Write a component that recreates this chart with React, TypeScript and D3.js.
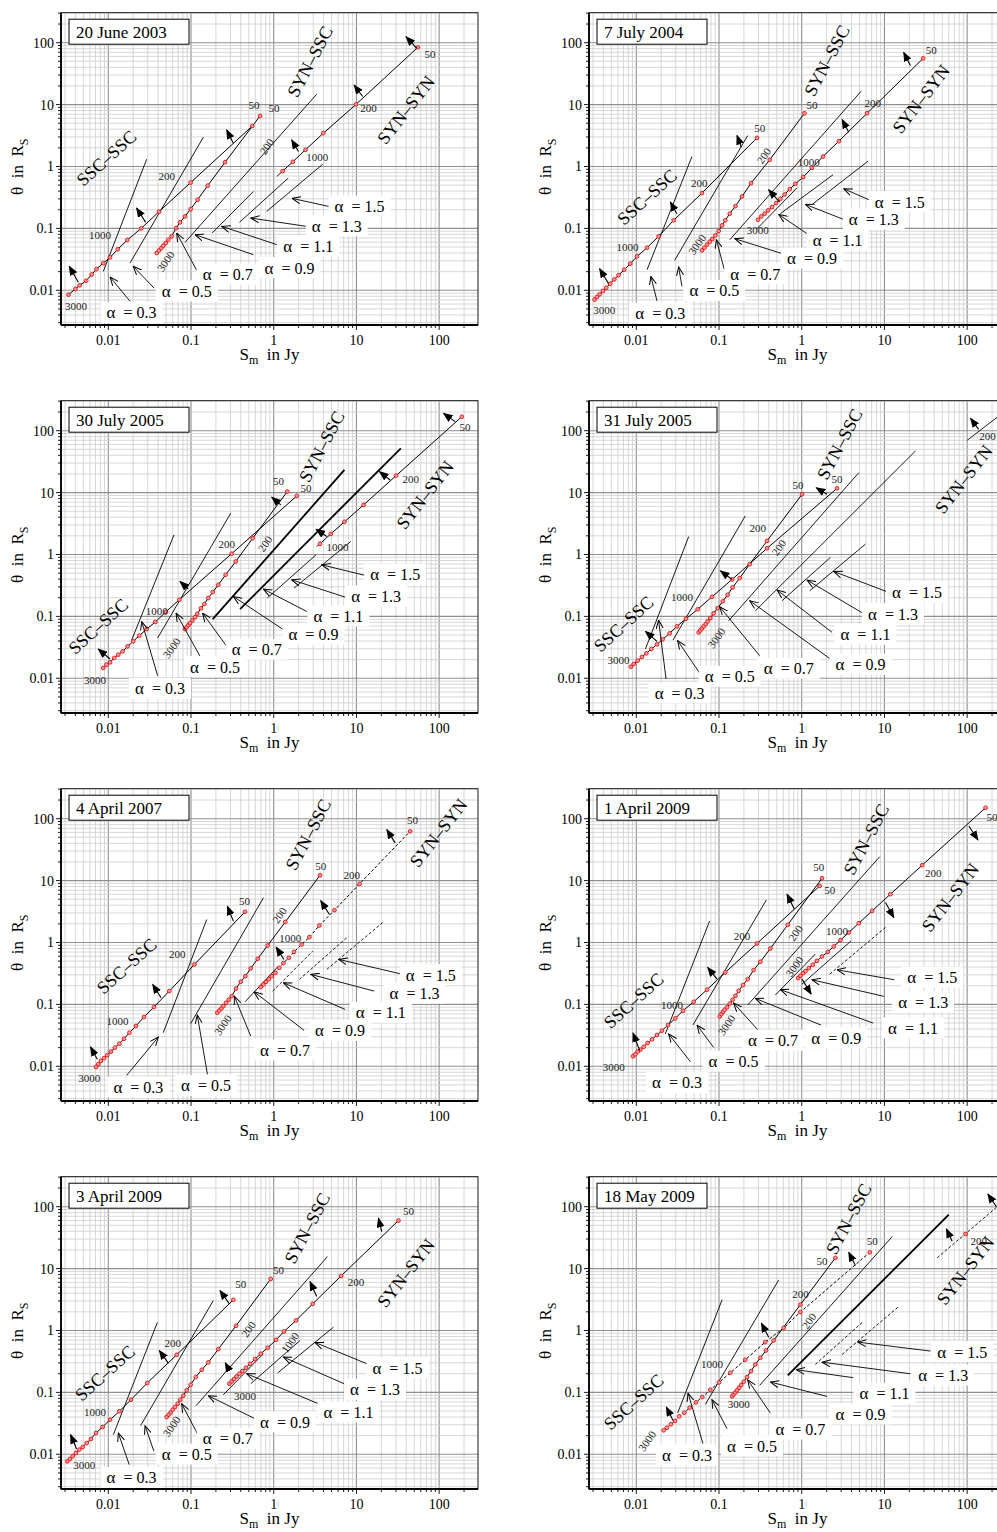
import React from 'react';
import * as d3 from 'd3';

type P = [number, number];
type Seg = [number, number, number, number];
type Num = [number, number, string, number?];

// alpha values shared by all panels, names of the three regimes
const alphaValues = ['0.3', '0.5', '0.7', '0.9', '1.1', '1.3', '1.5'];
const regimeNames = ['SSC\u2013SSC', 'SYN\u2013SSC', 'SYN\u2013SYN'];

// ---------- 20 June 2003 ----------
const jun03SscSsc: P[] = [[0.0033,0.0085],[0.004,0.0105],[0.0045,0.012],[0.0054,0.0143],[0.0063,0.018],[0.0072,0.022],[0.0087,0.0275],[0.0105,0.034],[0.013,0.046],[0.017,0.065],[0.025,0.1],[0.041,0.186],[0.099,0.55],[0.55,4.5]];
const jun03SynSsc: P[] = [[0.0385,0.04],[0.041,0.044],[0.0438,0.048],[0.0462,0.0525],[0.0494,0.058],[0.0532,0.0656],[0.0583,0.0743],[0.066,0.101],[0.0736,0.125],[0.0845,0.156],[0.099,0.205],[0.12,0.29],[0.159,0.49],[0.258,1.17],[0.684,6.56]];
const jun03SynSyn: P[] = [[1.28,0.84],[1.7,1.19],[2.42,1.86],[3.98,3.45],[9.9,10.1],[55.2,84]];
const jun03Lines: Seg[] = [[0.0087,0.0202,0.0291,1.31],[0.0183,0.0275,0.141,2.97],[0.0845,0.0594,3.31,14.7],[0.18,0.084,0.568,0.395],[0.385,0.125,1.5,0.65],[0.822,0.188,3.92,1.09],[1.09,0.69,1.28,0.84]];
const jun03AlphaAt: P[] = [[0.0191,0.0043],[0.0887,0.0096],[0.278,0.0179],[1.55,0.0229],[2.62,0.0513],[5.78,0.108],[10.9,0.226]];
const jun03AlphaArrows: Seg[] = [[0.0183,0.00665,0.0105,0.0164],[0.0356,0.0109,0.02,0.0244],[0.117,0.021,0.0671,0.0841],[0.568,0.0376,0.112,0.079],[1.09,0.0546,0.235,0.108],[2.46,0.108,0.527,0.147],[5.03,0.221,1.67,0.305]];
const jun03Normals: Seg[] = [[0.00434,0.0135,0.00337,0.0244],[0.0283,0.125,0.022,0.213],[0.325,2.38,0.27,3.9],[1.99,1.75,1.65,2.69],[11.9,13.5,9.38,20.7],[53.7,81,39.8,125]];
const jun03Nums: Num[] = [[0.00406,0.00566,'3000'],[0.00793,0.079,'1000'],[0.0508,0.69,'200'],[0.578,9.89,'50'],[1.01,8.73,'50'],[0.0494,0.0294,'3000',1],[0.822,2.1,'200',1],[3.37,1.42,'1000'],[14,8.73,'200'],[77.8,65.6,'50']];
const jun03Names: P[] = [[0.0095,1.36],[2.75,49.4],[39.8,8.2]];

// ---------- 7 July 2004 ----------
const jul04SscSsc: P[] = [[0.00313,0.00707],[0.00334,0.0078],[0.0036,0.0086],[0.00395,0.00975],[0.00434,0.011],[0.00484,0.0128],[0.00542,0.015],[0.0061,0.0175],[0.00716,0.0215],[0.00846,0.0269],[0.0102,0.0353],[0.0135,0.0488],[0.0186,0.0743],[0.0283,0.135],[0.0622,0.372],[0.288,2.9]];
const jul04SynSsc: P[] = [[0.0622,0.0442],[0.0665,0.0488],[0.0716,0.0546],[0.0771,0.061],[0.083,0.0673],[0.0903,0.077],[0.099,0.0906],[0.109,0.112],[0.119,0.135],[0.135,0.173],[0.158,0.229],[0.19,0.328],[0.244,0.538],[0.41,1.28],[1.08,7.24]];
const jul04SynSyn: P[] = [[0.296,0.138],[0.325,0.156],[0.356,0.173],[0.392,0.195],[0.438,0.221],[0.49,0.256],[0.552,0.301],[0.622,0.353],[0.716,0.431],[0.838,0.525],[1.04,0.673],[1.33,0.95],[1.81,1.45],[2.81,2.56],[6.17,7.24],[29.4,55.8]];
const jul04Lines: Seg[] = [[0.0135,0.0215,0.0471,1.45],[0.0291,0.0305,0.222,3.16],[0.135,0.0656,5.22,16.4],[0.288,0.0989,0.88,0.453],[0.552,0.173,2.39,0.735],[1.37,0.25,6.34,1.22]];
const jul04AlphaAt: P[] = [[0.0195,0.0042],[0.0879,0.00975],[0.275,0.0181],[1.33,0.0324],[2.72,0.064],[7.43,0.138],[15.3,0.266]];
const jul04AlphaArrows: Seg[] = [[0.0178,0.00673,0.015,0.0168],[0.0356,0.0116,0.0325,0.0238],[0.116,0.0215,0.0929,0.0656],[0.678,0.0367,0.155,0.0681],[1.16,0.082,0.527,0.168],[3.28,0.138,1.11,0.244],[6.78,0.283,3.22,0.437]];
const jul04Normals: Seg[] = [[0.00462,0.0128,0.0036,0.0223],[0.031,0.173,0.0258,0.266],[0.186,2.05,0.165,3.16],[0.542,0.266,0.398,0.421],[3.7,3.58,3.08,5.73],[20.6,42.6,17.1,69.8]];
const jul04Nums: Num[] = [[0.0041,0.00488,'3000'],[0.00785,0.05,'1000'],[0.0578,0.538,'200'],[0.31,4.21,'50'],[0.0542,0.0552,'3000',1],[0.347,1.5,'200',1],[1.33,9.89,'50'],[0.294,0.0929,'3000'],[1.22,1.17,'1000'],[7.23,10.6,'200'],[36.7,76.2,'50']];
const jul04Names: P[] = [[0.0135,0.32],[2.02,51.3],[27.8,12.3]];

// ---------- 30 July 2005 ----------
const jul30SscSsc: P[] = [[0.0087,0.0147],[0.0095,0.0166],[0.0105,0.0181],[0.0118,0.0213],[0.0132,0.0241],[0.0149,0.0272],[0.0171,0.0328],[0.02,0.0395],[0.0237,0.0488],[0.0291,0.0625],[0.037,0.0811],[0.0499,0.119],[0.0723,0.186],[0.31,1.03],[1.9,8.83]];
const jul30SynSsc: P[] = [[0.0845,0.0625],[0.0887,0.0673],[0.0929,0.0724],[0.0973,0.078],[0.104,0.0861],[0.112,0.0975],[0.119,0.11],[0.132,0.135],[0.145,0.158],[0.162,0.198],[0.183,0.247],[0.214,0.324],[0.262,0.47],[0.347,0.77],[0.557,1.83],[1.46,10.4]];
const jul30SynSyn: P[] = [[3.63,1.49],[4.9,2.15],[7.16,3.37],[12.2,6.32],[30.2,18.8],[188,168]];
const jul30Lines: Seg[] = [[0.0191,0.041,0.0622,2.07],[0.0395,0.0448,0.302,4.64],[0.838,0.198,3.25,0.989],[1.76,0.286,8.53,1.62],[3.31,1.35,3.63,1.49]];
const jul30BoldLines: Seg[] = [[0.183,0.0906,7.16,23.2],[0.392,0.131,34.4,51.9]];
const jul30AlphaAt: P[] = [[0.0422,0.00673],[0.195,0.0152],[0.622,0.029],[3.02,0.0506],[6.05,0.1],[17.3,0.21],[29.4,0.47]];
const jul30AlphaArrows: Seg[] = [[0.0395,0.011,0.0253,0.083],[0.132,0.0213,0.066,0.113],[0.27,0.0328,0.138,0.113],[1.31,0.061,0.325,0.21],[2.51,0.12,0.75,0.276],[7.29,0.205,1.65,0.39],[13.3,0.453,3.81,0.681]];
const jul30Normals: Seg[] = [[0.0105,0.0205,0.00757,0.0297],[0.0929,0.276,0.0736,0.367],[1.22,6.32,0.946,8.41],[4.38,1.95,3.25,2.56],[25.5,16,19,21.8],[156,140,113,190]];
const jul30Nums: Num[] = [[0.0069,0.0093,'3000'],[0.0385,0.12,'1000'],[0.27,1.49,'200'],[2.46,11.7,'50'],[0.0583,0.0308,'3000',1],[0.785,1.49,'200',1],[1.14,15.6,'50'],[5.89,1.31,'1000'],[45.4,16.4,'200'],[206,116,'50']];
const jul30Names: P[] = [[0.00757,0.069],[3.81,55.2],[67.8,9.16]];

// ---------- 31 July 2005 ----------
const jul31SscSsc: P[] = [[0.00861,0.0154],[0.0093,0.017],[0.0104,0.0193],[0.0117,0.0221],[0.0132,0.0253],[0.0152,0.0297],[0.0178,0.0353],[0.0208,0.0426],[0.0253,0.0532],[0.031,0.069],[0.0399,0.0916],[0.0552,0.13],[0.0822,0.207],[0.144,0.395],[0.381,1.26],[2.67,11.7]];
const jul31SynSsc: P[] = [[0.0568,0.0552],[0.0594,0.0594],[0.0622,0.064],[0.0653,0.069],[0.069,0.0752],[0.073,0.083],[0.0785,0.094],[0.0861,0.112],[0.0964,0.136],[0.111,0.175],[0.127,0.223],[0.146,0.294],[0.178,0.415],[0.235,0.698],[0.381,1.66],[1.01,9.4]];
const jul31Lines: Seg[] = [[0.0129,0.0297,0.043,1.95],[0.0278,0.0415,0.208,4.21],[0.131,0.0851,4.9,21],[0.275,0.123,23.7,47],[0.578,0.179,2.22,0.895],[1.25,0.259,5.89,1.47],[100,69.8,400,290]];
const jul31AlphaAt: P[] = [[0.0334,0.00573],[0.135,0.0106],[0.697,0.0142],[5.13,0.0166],[5.89,0.0506],[12.7,0.109],[24.8,0.244]];
const jul31AlphaArrows: Seg[] = [[0.0229,0.00975,0.0186,0.0873],[0.0594,0.0117,0.0316,0.0406],[0.31,0.0232,0.102,0.143],[2.22,0.0205,0.235,0.179],[2.33,0.0552,0.504,0.266],[5.52,0.112,1.16,0.385],[11.3,0.244,2.44,0.532]];
const jul31Normals: Seg[] = [[0.0178,0.0395,0.0129,0.0573],[0.144,0.395,0.104,0.546],[2.02,9.4,1.5,12],[138,105,110,158]];
const jul31Nums: Num[] = [[0.0061,0.0198,'3000'],[0.0356,0.202,'1000'],[0.294,2.66,'200'],[0.904,13.1,'50'],[2.67,16.4,'50'],[0.0929,0.0448,'3000',1],[0.527,1.3,'200',1],[176,82,'200']];
const jul31Names: P[] = [[0.00703,0.0752],[2.88,60.3],[91.2,16.4]];

// ---------- 4 April 2007 ----------
const apr07SscSsc: P[] = [[0.0071,0.00975],[0.00757,0.0108],[0.00815,0.0122],[0.00887,0.0135],[0.00972,0.0152],[0.0108,0.0173],[0.012,0.02],[0.0136,0.0232],[0.0155,0.0279],[0.018,0.0349],[0.0216,0.0448],[0.027,0.0625],[0.0356,0.0906],[0.0547,0.164],[0.11,0.442],[0.45,3.13]];
const apr07SynSsc: P[] = [[0.208,0.0734],[0.22,0.08],[0.233,0.0861],[0.246,0.094],[0.265,0.106],[0.286,0.119],[0.31,0.136],[0.35,0.18],[0.399,0.232],[0.454,0.286],[0.527,0.381],[0.64,0.546],[0.845,0.895],[1.38,2.15],[3.63,12.2]];
const apr07SynSyn: P[] = [[0.697,0.19],[0.75,0.21],[0.807,0.232],[0.871,0.256],[0.946,0.286],[1.05,0.324],[1.17,0.39],[1.31,0.465],[1.52,0.566],[1.76,0.706],[2.18,0.929],[2.7,1.22],[3.56,1.88],[5.42,3.33],[10.9,8.83],[44.6,62.5]];
const apr07Lines: Seg[] = [[0.0462,0.0349,0.155,2.35],[0.099,0.0488,0.75,5.25],[0.45,0.11,1.14,0.415]];
const apr07DashLines: Seg[] = [[0.972,0.164,2.96,0.724],[2.04,0.253,8.0,1.26],[4.38,0.367,21.2,2.15]];
const apr07AlphaAt: P[] = [[0.0231,0.00453],[0.152,0.00482],[1.37,0.0181],[6.34,0.0372],[19.7,0.0734],[50.4,0.149],[79.3,0.297]];
const apr07AlphaArrows: Seg[] = [[0.0167,0.00716,0.0403,0.0297],[0.158,0.00743,0.119,0.0673],[0.527,0.0308,0.334,0.136],[2.33,0.0381,0.578,0.16],[7.29,0.083,1.31,0.223],[16.4,0.164,2.81,0.305],[33.7,0.313,6.14,0.532]];
const apr07Normals: Seg[] = [[0.00736,0.013,0.0061,0.0205],[0.0434,0.128,0.0344,0.21],[0.325,2.21,0.275,3.85],[1.33,0.532,1.07,0.841],[4.71,2.83,3.7,4.75],[29.4,40.6,23.3,66.5]];
const apr07Nums: Num[] = [[0.00589,0.0064,'3000'],[0.0129,0.0538,'1000'],[0.0684,0.64,'200'],[0.442,4.64,'50'],[0.242,0.0464,'3000',1],[1.17,2.76,'200',1],[3.7,17,'50'],[1.58,1.16,'1000'],[8.79,12.2,'200'],[47.5,94,'50']];
const apr07Names: P[] = [[0.0167,0.415],[2.62,55.2],[98.2,58.7]];

// ---------- 1 April 2009 ----------
const apr01SscSsc: P[] = [[0.00912,0.0145],[0.00972,0.0156],[0.0104,0.0173],[0.0112,0.0186],[0.0123,0.0207],[0.0137,0.0238],[0.0155,0.0272],[0.0178,0.032],[0.0204,0.0376],[0.0242,0.0464],[0.0296,0.0594],[0.0367,0.079],[0.0494,0.11],[0.0716,0.173],[0.119,0.328],[0.288,0.964],[1.65,8.2]];
const apr01SynSsc: P[] = [[0.102,0.064],[0.107,0.0698],[0.112,0.0762],[0.117,0.082],[0.125,0.0895],[0.135,0.103],[0.146,0.119],[0.158,0.138],[0.173,0.166],[0.195,0.205],[0.222,0.256],[0.262,0.358],[0.316,0.488],[0.418,0.8],[0.678,1.93],[1.76,10.9]];
const apr01SynSyn: P[] = [[0.904,0.266],[0.964,0.29],[1.04,0.32],[1.11,0.345],[1.22,0.385],[1.36,0.437],[1.53,0.506],[1.76,0.594],[2.07,0.706],[2.44,0.861],[2.94,1.09],[3.7,1.45],[4.9,2.05],[7.1,3.24],[11.8,6.03],[28.6,17.7],[167,150]];
const apr01Lines: Seg[] = [[0.0224,0.0333,0.0771,2.23],[0.0484,0.0464,0.374,4.88],[0.222,0.0975,8.79,24.4],[0.48,0.142,1.46,0.649],[1.01,0.213,3.95,1.06]];
const apr01DashLines: Seg[] = [[2.18,0.308,10.3,1.75]];
const apr01AlphaAt: P[] = [[0.031,0.00538],[0.15,0.0119],[0.45,0.0259],[2.62,0.0283],[22.2,0.041],[29.4,0.108],[37.8,0.272]];
const apr01AlphaArrows: Seg[] = [[0.045,0.0119,0.0246,0.0333],[0.0861,0.0202,0.0542,0.0464],[0.294,0.039,0.15,0.105],[1.71,0.0464,0.275,0.125],[7.29,0.05,0.552,0.173],[9.82,0.135,1.33,0.25],[13.2,0.25,2.67,0.362]];
const apr01Normals: Seg[] = [[0.011,0.0179,0.00912,0.0345],[0.0946,0.256,0.073,0.395],[0.815,3.45,0.665,6.03],[1.01,0.256,1.3,0.147],[10.3,4.42,13,2.53],[105,76.2,135,45.3]];
const apr01Nums: Num[] = [[0.00532,0.00964,'3000'],[0.027,0.0975,'1000'],[0.19,1.25,'200'],[1.61,16.8,'50'],[2.18,6.98,'50'],[0.123,0.0464,'3000',1],[0.838,1.42,'200',1],[0.815,0.41,'3000',1],[2.67,1.54,'1000'],[38.8,13.5,'200'],[200,108,'50']];
const apr01Names: P[] = [[0.0093,0.115],[6.05,46.4],[62.8,5.32]];

// ---------- 3 April 2009 ----------
const apr03SscSsc: P[] = [[0.00319,0.00771],[0.00344,0.0084],[0.00371,0.0093],[0.00406,0.0105],[0.00446,0.0119],[0.0049,0.0131],[0.00547,0.0152],[0.00617,0.0177],[0.0071,0.0221],[0.00853,0.0276],[0.0105,0.0362],[0.0136,0.0494],[0.0188,0.0762],[0.0296,0.142],[0.0671,0.405],[0.325,3.13]];
const apr03SynSsc: P[] = [[0.0508,0.04],[0.0537,0.0437],[0.0568,0.0475],[0.06,0.0525],[0.064,0.058],[0.069,0.0656],[0.0743,0.0762],[0.0807,0.0883],[0.0887,0.108],[0.099,0.133],[0.114,0.177],[0.135,0.232],[0.162,0.305],[0.214,0.5],[0.35,1.19],[0.92,6.81]];
const apr03SynSyn: P[] = [[0.291,0.138],[0.31,0.15],[0.331,0.164],[0.356,0.181],[0.385,0.2],[0.418,0.221],[0.462,0.25],[0.518,0.29],[0.594,0.345],[0.697,0.421],[0.845,0.525],[1.07,0.706],[1.33,0.964],[1.86,1.45],[2.96,2.69],[6.53,7.62],[32.2,59.7]];
const apr03Lines: Seg[] = [[0.0115,0.0207,0.0392,1.35],[0.0246,0.029,0.186,3.05],[0.115,0.061,4.46,15.6],[0.246,0.0916,0.75,0.421],[0.527,0.138,2.08,0.69],[1.11,0.205,5.27,1.13]];
const apr03AlphaAt: P[] = [[0.0191,0.00415],[0.0887,0.00989],[0.278,0.0177],[1.37,0.0328],[8.0,0.0475],[16.8,0.11],[31.3,0.247]];
const apr03AlphaArrows: Seg[] = [[0.0179,0.00681,0.0132,0.0221],[0.0356,0.0112,0.0278,0.029],[0.123,0.02,0.0771,0.0656],[0.653,0.0353,0.162,0.0883],[3.47,0.0656,0.471,0.2],[7.1,0.138,1.31,0.372],[14.4,0.279,3.16,0.64]];
const apr03Normals: Seg[] = [[0.00414,0.0122,0.0035,0.0207],[0.0532,0.297,0.0414,0.475],[0.291,2.69,0.224,4.42],[3.31,3.53,2.75,6.17],[20.2,39.5,18.5,64.9],[0.291,0.226,0.26,0.3]];
const apr03Nums: Num[] = [[0.00513,0.00681,'3000'],[0.0069,0.0475,'1000'],[0.06,0.625,'200'],[0.399,5.66,'50'],[0.0583,0.0283,'3000',1],[0.494,1.05,'200',1],[1.14,9.5,'50'],[0.45,0.0883,'3000'],[1.58,0.64,'1000',1],[9.9,6.17,'200'],[42.6,86,'50']];
const apr03Names: P[] = [[0.00912,0.205],[2.55,44.8],[39.8,8.41]];

// ---------- 18 May 2009 ----------
const may09SscSsc: P[] = [[0.0214,0.0244],[0.0235,0.0269],[0.0262,0.0305],[0.0294,0.0345],[0.0331,0.041],[0.0381,0.047],[0.0442,0.0566],[0.0527,0.069],[0.0628,0.0841],[0.0785,0.11],[0.1,0.145],[0.137,0.207],[0.208,0.337],[0.363,0.649],[0.605,1.1],[0.964,1.98],[6.65,18.3]];
const may09SynSsc: P[] = [[0.144,0.0861],[0.15,0.0929],[0.158,0.1],[0.165,0.108],[0.175,0.119],[0.185,0.131],[0.199,0.149],[0.218,0.177],[0.244,0.221],[0.275,0.283],[0.316,0.362],[0.37,0.475],[0.458,0.69],[0.964,2.62],[2.55,14.9]];
const may09SynSyn: P[] = [[95.5,36.2]];
const may09Lines: Seg[] = [[0.0316,0.0464,0.109,3.13],[0.0684,0.064,0.527,6.56],[0.31,0.13,12.4,32.8]];
const may09BoldLines: Seg[] = [[0.678,0.188,60,74.3]];
const may09DashLines: Seg[] = [[1.46,0.283,5.62,1.42],[3.08,0.41,14.6,2.38],[43.4,14.9,231,100]];
const may09AlphaAt: P[] = [[0.041,0.00964],[0.251,0.0135],[0.964,0.025],[5.13,0.0442],[10,0.0951],[51.3,0.188],[87.1,0.448]];
const may09AlphaArrows: Seg[] = [[0.064,0.0149,0.0422,0.0975],[0.125,0.0259,0.0822,0.0762],[0.418,0.0464,0.222,0.16],[2.02,0.0861,0.418,0.147],[4.18,0.173,0.861,0.232],[20.6,0.2,1.76,0.308],[36,0.465,4.75,0.649]];
const may09Normals: Seg[] = [[0.0278,0.0353,0.0231,0.058],[0.399,0.78,0.325,1.31],[4.46,11.2,3.7,18.3],[65.9,27.6,56.2,43.6],[226,100,178,160]];
const may09Nums: Num[] = [[0.0135,0.0164,'3000',1],[0.0822,0.283,'1000'],[0.964,3.9,'200'],[1.76,13.5,'50'],[7.1,28.3,'50'],[0.173,0.0656,'3000'],[1.22,1.42,'200',1],[138,27.6,'200']];
const may09Names: P[] = [[0.0093,0.0698],[3.7,63.3],[95.5,9.29]];

const xTicks = [0.01, 0.1, 1, 10, 100];
const yTicks = [0.01, 0.1, 1, 10, 100];

interface Curve { pts: P[]; dashed?: boolean }
interface Panel {
  title: string; col: number; row: number; curves: Curve[];
  lines: Seg[]; bold?: Seg[]; dash?: Seg[]; normals: Seg[];
  alphaAt: P[]; alphaArrows: Seg[]; nums: Num[]; names: P[];
}

const panels: Panel[] = [
  { title: '20 June 2003', col: 0, row: 0, curves: [{ pts: jun03SscSsc }, { pts: jun03SynSsc }, { pts: jun03SynSyn }],
    lines: jun03Lines, normals: jun03Normals, alphaAt: jun03AlphaAt, alphaArrows: jun03AlphaArrows, nums: jun03Nums, names: jun03Names },
  { title: '7 July 2004', col: 1, row: 0, curves: [{ pts: jul04SscSsc }, { pts: jul04SynSsc }, { pts: jul04SynSyn }],
    lines: jul04Lines, normals: jul04Normals, alphaAt: jul04AlphaAt, alphaArrows: jul04AlphaArrows, nums: jul04Nums, names: jul04Names },
  { title: '30 July 2005', col: 0, row: 1, curves: [{ pts: jul30SscSsc }, { pts: jul30SynSsc }, { pts: jul30SynSyn }],
    lines: jul30Lines, bold: jul30BoldLines, normals: jul30Normals, alphaAt: jul30AlphaAt, alphaArrows: jul30AlphaArrows, nums: jul30Nums, names: jul30Names },
  { title: '31 July 2005', col: 1, row: 1, curves: [{ pts: jul31SscSsc }, { pts: jul31SynSsc }],
    lines: jul31Lines, normals: jul31Normals, alphaAt: jul31AlphaAt, alphaArrows: jul31AlphaArrows, nums: jul31Nums, names: jul31Names },
  { title: '4 April 2007', col: 0, row: 2, curves: [{ pts: apr07SscSsc }, { pts: apr07SynSsc }, { pts: apr07SynSyn, dashed: true }],
    lines: apr07Lines, dash: apr07DashLines, normals: apr07Normals, alphaAt: apr07AlphaAt, alphaArrows: apr07AlphaArrows, nums: apr07Nums, names: apr07Names },
  { title: '1 April 2009', col: 1, row: 2, curves: [{ pts: apr01SscSsc }, { pts: apr01SynSsc }, { pts: apr01SynSyn }],
    lines: apr01Lines, dash: apr01DashLines, normals: apr01Normals, alphaAt: apr01AlphaAt, alphaArrows: apr01AlphaArrows, nums: apr01Nums, names: apr01Names },
  { title: '3 April 2009', col: 0, row: 3, curves: [{ pts: apr03SscSsc }, { pts: apr03SynSsc }, { pts: apr03SynSyn }],
    lines: apr03Lines, normals: apr03Normals, alphaAt: apr03AlphaAt, alphaArrows: apr03AlphaArrows, nums: apr03Nums, names: apr03Names },
  { title: '18 May 2009', col: 1, row: 3, curves: [{ pts: may09SscSsc, dashed: true }, { pts: may09SynSsc }, { pts: may09SynSyn }],
    lines: may09Lines, bold: may09BoldLines, dash: may09DashLines, normals: may09Normals, alphaAt: may09AlphaAt, alphaArrows: may09AlphaArrows, nums: may09Nums, names: may09Names },
];

const FONT = "'Liberation Serif', 'DejaVu Serif', 'Times New Roman', serif";
const W = 997, H = 1532;
const left0 = 61, top0 = 12.7, pw = 417, ph = 312.3, colStep = 528, rowStep = 388;
const xDomain: P = [0.00268, 295];
const yDomain: P = [0.00275, 305];
const nameRot = [-42, -62, -52];

// 1..9 x 10^e inside a domain
function logGrid(dom: P) {
  const out: { v: number; major: boolean }[] = [];
  for (let e = -3; e <= 2; e++) {
    for (let k = 1; k <= 9; k++) {
      const v = k * Math.pow(10, e);
      if (v >= dom[0] && v <= dom[1]) out.push({ v, major: k === 1 });
    }
  }
  return out;
}

const PanelChart = ({ p, idx }: { p: Panel; idx: number }) => {
  const left = left0 + p.col * colStep;
  const top = top0 + p.row * rowStep;
  const x = d3.scaleLog().domain(xDomain).range([left, left + pw]);
  const y = d3.scaleLog().domain(yDomain).range([top + ph, top]);
  const line = d3.line<P>().x(d => x(d[0])).y(d => y(d[1]));
  const clip = `clip${idx}`;
  const seg = (s: Seg, key: string, props: any) => (
    <line key={key} x1={x(s[0])} y1={y(s[1])} x2={x(s[2])} y2={y(s[3])} {...props} />
  );

  return (
    <g>
      <clipPath id={clip}><rect x={left} y={top} width={pw} height={ph} /></clipPath>
      <rect x={left} y={top} width={pw} height={ph} fill="#fff" />
      {/* grid */}
      <g>
        {logGrid(xDomain).map(g => (
          <line key={'gx' + g.v} x1={x(g.v)} x2={x(g.v)} y1={top} y2={top + ph}
            stroke={g.major ? '#8f8f8f' : '#cdcdcd'} strokeWidth={g.major ? 1.1 : 0.8} />
        ))}
        {logGrid(yDomain).map(g => (
          <line key={'gy' + g.v} y1={y(g.v)} y2={y(g.v)} x1={left} x2={left + pw}
            stroke={g.major ? '#8f8f8f' : '#cdcdcd'} strokeWidth={g.major ? 1.1 : 0.8} />
        ))}
      </g>
      <g clipPath={`url(#${clip})`}>
        {p.lines.map((s, i) => seg(s, 'l' + i, { stroke: '#000', strokeWidth: 0.9 }))}
        {(p.bold || []).map((s, i) => seg(s, 'b' + i, { stroke: '#000', strokeWidth: 1.8 }))}
        {(p.dash || []).map((s, i) => seg(s, 'd' + i, { stroke: '#000', strokeWidth: 0.9, strokeDasharray: '3,2' }))}
        {p.curves.map((c, i) => (
          <path key={'c' + i} d={line(c.pts) || ''} fill="none" stroke="#000" strokeWidth={1}
            strokeDasharray={c.dashed ? '3,2' : undefined} />
        ))}
        {p.curves.map((c, i) => c.pts.map((d, j) => (
          <circle key={'p' + i + '-' + j} cx={x(d[0])} cy={y(d[1])} r={1.9}
            fill="#ff9a9a" stroke="#e00000" strokeWidth={0.8} />
        )))}
        {p.normals.map((s, i) => seg(s, 'n' + i, { stroke: '#000', strokeWidth: 1.1, markerEnd: 'url(#solidHead)' }))}
      </g>
      {/* alpha labels */}
      {p.alphaArrows.map((s, i) => seg(s, 'a' + i, { stroke: '#000', strokeWidth: 0.9, markerEnd: 'url(#openHead)' }))}
      {p.alphaAt.map((d, i) => (
        <g key={'al' + i}>
          <rect x={x(d[0]) - 31} y={y(d[1]) - 11} width={62} height={21} fill="#fff" />
          <text x={x(d[0])} y={y(d[1]) + 5.5} textAnchor="middle" fontFamily={FONT} fontSize={16}
            style={{ whiteSpace: 'pre' }}><tspan fontSize={17}>{'\u03b1'}</tspan>{`  = ${alphaValues[i]}`}</text>
        </g>
      ))}
      {/* frequency labels */}
      <g clipPath={`url(#${clip})`}>
        {p.nums.map((n, i) => (
          <text key={'nu' + i} x={x(n[0])} y={y(n[1])} textAnchor="middle" dominantBaseline="central"
            fontFamily={FONT} fontSize={11} fill="#222"
            transform={n[3] ? `rotate(-55 ${x(n[0])} ${y(n[1])})` : undefined}>{n[2]}</text>
        ))}
      </g>
      {p.names.map((d, i) => (
        <text key={'nm' + i} x={x(d[0])} y={y(d[1])} textAnchor="middle" dominantBaseline="central"
          fontFamily={FONT} fontSize={18} transform={`rotate(${nameRot[i]} ${x(d[0])} ${y(d[1])})`}>
          {regimeNames[i]}
        </text>
      ))}
      {/* frame and ticks */}
      <rect x={left} y={top} width={pw} height={ph} fill="none" stroke="#000" strokeWidth={0.9} />
      <line x1={left} x2={left} y1={top} y2={top + ph} stroke="#000" strokeWidth={1.8} />
      <line x1={left} x2={left + pw} y1={top + ph} y2={top + ph} stroke="#000" strokeWidth={1.8} />
      {logGrid(xDomain).map(g => (
        <line key={'tx' + g.v} x1={x(g.v)} x2={x(g.v)} y1={top + ph} y2={top + ph + (g.major ? 5 : 3)}
          stroke="#000" strokeWidth={0.9} />
      ))}
      {logGrid(yDomain).map(g => (
        <line key={'ty' + g.v} y1={y(g.v)} y2={y(g.v)} x1={left} x2={left - (g.major ? 5 : 3)}
          stroke="#000" strokeWidth={0.9} />
      ))}
      {xTicks.map(t => (
        <text key={'xl' + t} x={x(t)} y={top + ph + 20} textAnchor="middle" fontFamily={FONT} fontSize={14}>{t}</text>
      ))}
      {yTicks.map(t => (
        <text key={'yl' + t} x={left - 7} y={y(t) + 5} textAnchor="end" fontFamily={FONT} fontSize={14}>{t}</text>
      ))}
      <text x={left + pw / 2} y={top + ph + 35} textAnchor="middle" fontFamily={FONT} fontSize={17} style={{ whiteSpace: 'pre' }}>
        S<tspan fontSize={12} dy={4}>m</tspan><tspan dy={-4}>{'  in Jy'}</tspan>
      </text>
      <text transform={`translate(${left - 38},${top + 154}) rotate(-90)`} textAnchor="middle" fontFamily={FONT}
        fontSize={17} style={{ whiteSpace: 'pre' }}>
        {'\u03b8  in  R'}<tspan fontSize={12} dy={5}>S</tspan>
      </text>
      {/* date box */}
      <rect x={left + 8} y={top + 6.5} width={p.title.length * 10} height={25} fill="#fff" stroke="#000" strokeWidth={1} />
      <text x={left + 15} y={top + 25} fontFamily={FONT} fontSize={17}>{p.title}</text>
    </g>
  );
};

export default function App() {
  return (
    <div style={{ position: 'absolute', left: 0, top: 0 }}>
      <svg width={W} height={H} style={{ display: 'block', background: '#fff' }}>
        <defs>
          <marker id="solidHead" viewBox="0 0 10 8" refX={9} refY={4} markerWidth={10} markerHeight={8}
            markerUnits="userSpaceOnUse" orient="auto">
            <path d="M0,0 L10,4 L0,8 Z" fill="#000" />
          </marker>
          <marker id="openHead" viewBox="0 0 9 8" refX={8.5} refY={4} markerWidth={9} markerHeight={8}
            markerUnits="userSpaceOnUse" orient="auto">
            <path d="M0,0.5 L8.5,4 L0,7.5" fill="none" stroke="#000" strokeWidth={1} />
          </marker>
        </defs>
        {panels.map((p, i) => <PanelChart key={p.title} p={p} idx={i} />)}
      </svg>
    </div>
  );
}
